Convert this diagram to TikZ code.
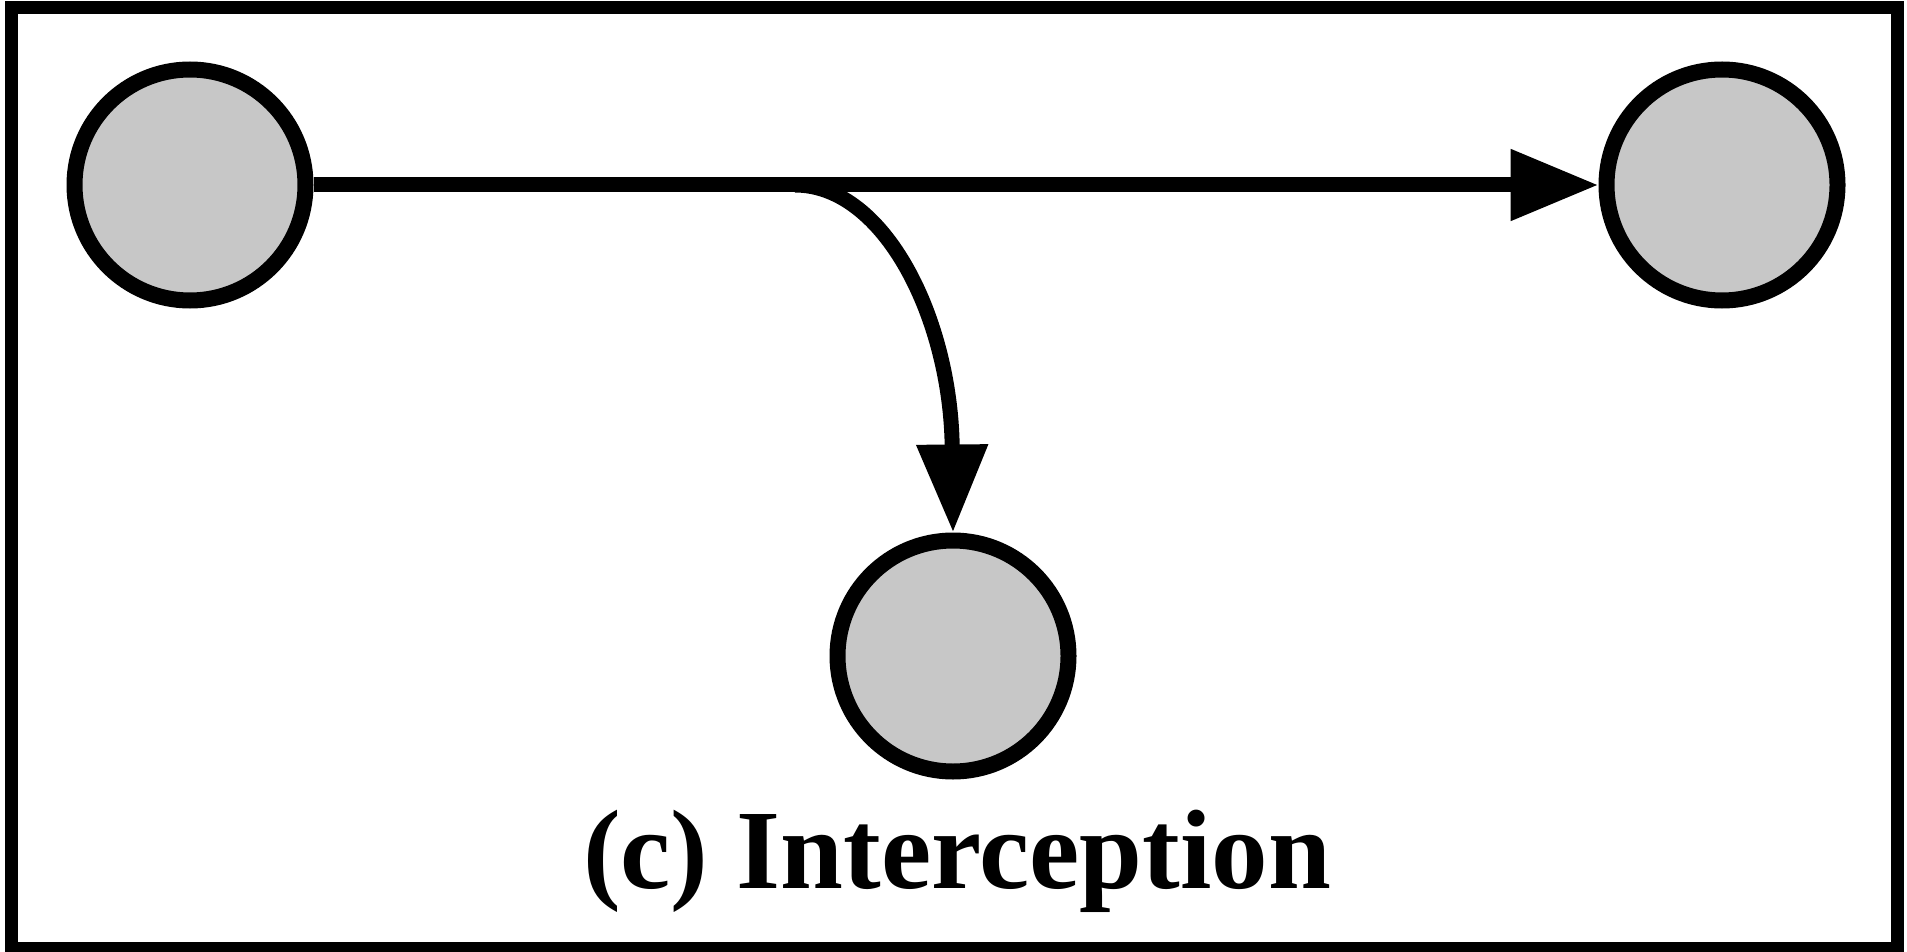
\documentclass[tikz,border=0pt]{standalone}
\usepackage{fontspec}
\setmainfont{Liberation Serif}
\usetikzlibrary{arrows.meta}
\begin{document}
\begin{tikzpicture}[x=1pt,y=-1pt,
  party/.style={circle,draw=black,line width=16pt,fill=black!22,minimum size=231pt,inner sep=0pt},
  flow/.style={line width=15pt,-{Triangle[length=88pt,width=68pt]}},
  frame/.style={line width=13pt}]
\useasboundingbox (0,0) rectangle (1907,952);
\draw[frame] (11,8) rectangle (1897,948);
\node[party] (src) at (190,185) {};
\node[party] (dst) at (1722,185) {};
\node[party] (eve) at (953,656) {};
\coordinate (tap) at (795,185);
\draw[flow] (src) -- (dst);
\draw[flow] (tap) .. controls (885,185) and (951,320) .. (eve.north);
\node[anchor=base,inner sep=0pt,font=\fontsize{113}{120}\selectfont\bfseries] (cap) at (957,888) {(c) Interception};
\end{tikzpicture}
\end{document}
